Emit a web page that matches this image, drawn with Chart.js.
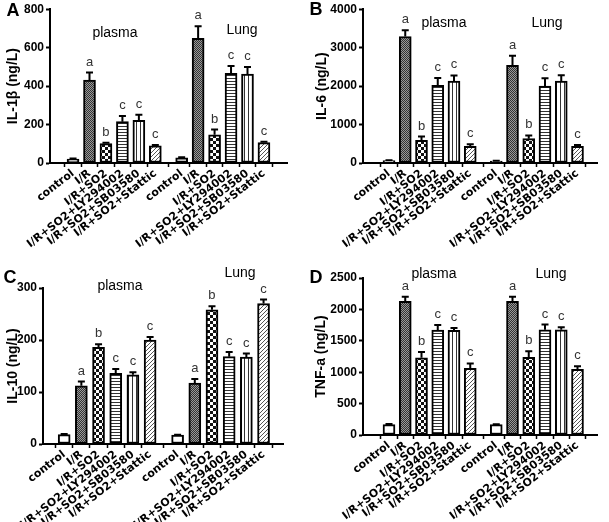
<!DOCTYPE html>
<html>
<head>
<meta charset="utf-8">
<script src="https://cdn.jsdelivr.net/npm/chart.js@4"></script>
<style>
  body { margin: 0; background: #fff; }
  #wrap { position: relative; width: 609px; height: 522px; }
  .panel { position: absolute; }
</style>
</head>
<body>
<div id="wrap">
  <div class="panel" style="left:0;top:0;width:304px;height:261px"><canvas id="chartA"></canvas></div>
  <div class="panel" style="left:304px;top:0;width:305px;height:261px"><canvas id="chartB"></canvas></div>
  <div class="panel" style="left:0;top:261px;width:304px;height:261px"><canvas id="chartC"></canvas></div>
  <div class="panel" style="left:304px;top:261px;width:305px;height:261px"><canvas id="chartD"></canvas></div>
</div>
<script>
// groups and positions on the x axis
const groupLabels = ["control", "I/R", "I/R+SO2", "I/R+SO2+LY294002", "I/R+SO2+SB03580", "I/R+SO2+Stattic"];
const plasmaX = [0, 1, 2, 3, 4, 5];
const lungX = [6.6, 7.6, 8.6, 9.6, 10.6, 11.6];
const sigLetters = ["", "a", "b", "c", "c", "c"];

// A: IL-1b
const il1bPlasma = [20, 431, 101, 215, 222, 89];
const il1bPlasmaErr = [3, 40, 4, 30, 29, 4];
const il1bLung = [27, 648, 147, 467, 463, 106];
const il1bLungErr = [3, 63, 27, 37, 36, 5];

// B: IL-6
const il6Plasma = [60, 3290, 590, 2018, 2128, 436];
const il6PlasmaErr = [10, 160, 100, 195, 150, 50];
const il6Lung = [50, 2538, 633, 2000, 2128, 436];
const il6LungErr = [10, 250, 85, 205, 155, 35];

// C: IL-10
const il10Plasma = [18, 112, 186, 136, 133, 200];
const il10PlasmaErr = [1, 8, 6, 8, 5, 6];
const il10Lung = [17, 117, 258, 168, 167, 270];
const il10LungErr = [1, 8, 7, 9, 7, 8];

// D: TNF-a
const tnfPlasma = [165, 2130, 1230, 1670, 1665, 1060];
const tnfPlasmaErr = [10, 70, 90, 80, 40, 80];
const tnfLung = [165, 2130, 1235, 1675, 1675, 1045];
const tnfLungErr = [8, 70, 100, 85, 40, 50];

const FONT = "'Liberation Sans', Arial, sans-serif";
const WIDE_FONT = "'DejaVu Sans', Verdana, sans-serif";

const makePattern = (size, draw) => {
  const c = document.createElement("canvas");
  c.width = size; c.height = size;
  const g = c.getContext("2d");
  g.fillStyle = "#fff";
  g.fillRect(0, 0, size, size);
  draw(g);
  return g.createPattern(c, "repeat");
}

const patterns = [
  "#ffffff",
  makePattern(2, g => { g.fillStyle = "#333"; g.fillRect(0, 0, 1, 1); g.fillRect(1, 1, 1, 1); g.fillStyle = "#999"; g.fillRect(1, 0, 1, 1); g.fillRect(0, 1, 1, 1); }),
  makePattern(6, g => { g.fillStyle = "#111"; g.fillRect(0, 0, 3, 3); g.fillRect(3, 3, 3, 3); }),
  makePattern(3, g => { g.fillStyle = "#333"; g.fillRect(0, 0, 3, 1); }),
  makePattern(4, g => { g.fillStyle = "#333"; g.fillRect(0, 0, 1, 4); }),
  makePattern(4, g => { g.fillStyle = "#555"; g.fillRect(3, 0, 1, 1); g.fillRect(2, 1, 1, 1); g.fillRect(1, 2, 1, 1); g.fillRect(0, 3, 1, 1); })
];

// error bars, significance letters, group names, panel letter
const decorPlugin = {
  id: "decor",
  afterDatasetsDraw(chart, args, opts) {
    const ctx = chart.ctx;
    const yScale = chart.scales.y;
    const meta = chart.getDatasetMeta(0);
    const values = opts.values, errs = opts.errs;
    ctx.save();
    meta.data.forEach((bar, i) => {
      const top = yScale.getPixelForValue(values[i] + errs[i]);
      ctx.strokeStyle = "#000";
      ctx.lineWidth = 2;
      ctx.beginPath();
      ctx.moveTo(bar.x, bar.y);
      ctx.lineTo(bar.x, top);
      ctx.moveTo(bar.x - 3.5, top);
      ctx.lineTo(bar.x + 3.5, top);
      ctx.stroke();
      const letter = sigLetters[i % 6];
      if (letter) {
        ctx.fillStyle = "#333";
        ctx.font = "13px " + FONT;
        ctx.textAlign = "center";
        ctx.textBaseline = "bottom";
        ctx.fillText(letter, bar.x, top - 4);
      }
    });
    ctx.fillStyle = "#000";
    ctx.font = "14px " + FONT;
    ctx.textAlign = "center";
    ctx.textBaseline = "middle";
    opts.groups.forEach(gp => ctx.fillText(gp.text, gp.x, gp.y));
    ctx.font = "bold 18px " + FONT;
    ctx.fillText(opts.panel.text, opts.panel.x, opts.panel.y);
    ctx.restore();
  }
};

const renderPanel = (canvasId, cfg) => {
  const values = cfg.plasma.concat(cfg.lung);
  const errs = cfg.plasmaErr.concat(cfg.lungErr);
  const xs = plasmaX.concat(lungX);
  new Chart(document.getElementById(canvasId), {
    type: "bar",
    data: {
      datasets: [{
        data: values.map((v, i) => ({ x: xs[i], y: v })),
        backgroundColor: patterns.concat(patterns),
        borderColor: "#000",
        borderWidth: 2,
        borderSkipped: false,
        barThickness: 12
      }]
    },
    plugins: [decorPlugin],
    options: {
      responsive: true,
      maintainAspectRatio: false,
      animation: false,
      layout: { padding: { top: cfg.top, right: cfg.right, left: 0, bottom: 0 } },
      plugins: {
        legend: { display: false },
        tooltip: { enabled: false },
        decor: { values, errs, groups: cfg.groups, panel: cfg.panel }
      },
      scales: {
        x: {
          type: "linear",
          min: cfg.xMin,
          max: cfg.xMax,
          afterBuildTicks: s => { s.ticks = xs.map(v => ({ value: v })); },
          afterFit: s => { s.height = cfg.xHeight; },
          grid: { drawOnChartArea: false, drawTicks: true, tickLength: 4, tickColor: "#000", tickWidth: 1.5 },
          border: { display: true, color: "#000", width: 2 },
          ticks: {
            autoSkip: false,
            minRotation: 38,
            maxRotation: 38,
            padding: 0,
            color: "#000",
            font: { family: WIDE_FONT, weight: "bold", size: 11 },
            callback: (v, i) => groupLabels[i % 6]
          }
        },
        y: {
          min: 0,
          max: cfg.yMax,
          afterFit: s => { s.width = cfg.yWidth; },
          grid: { drawOnChartArea: false, drawTicks: true, tickLength: 4, tickColor: "#000", tickWidth: 2 },
          border: { display: true, color: "#000", width: 2 },
          ticks: {
            stepSize: cfg.yStep,
            padding: 2,
            color: "#000",
            font: { family: FONT, weight: "bold", size: 12 },
            callback: v => String(v)
          },
          title: {
            display: true,
            text: cfg.yTitle,
            color: "#000",
            padding: { top: cfg.titlePad, bottom: 2 },
            font: { family: FONT, weight: "bold", size: 14 }
          }
        }
      }
    }
  });
}

renderPanel("chartA", {
  plasma: il1bPlasma, plasmaErr: il1bPlasmaErr, lung: il1bLung, lungErr: il1bLungErr,
  yTitle: "IL-1β (ng/L)", yMax: 800, yStep: 200, titlePad: 5,
  top: 7, right: 17, yWidth: 50, xHeight: 98, xMin: -0.8, xMax: 12.4,
  groups: [{ text: "plasma", x: 115, y: 33 }, { text: "Lung", x: 242, y: 30 }],
  panel: { text: "A", x: 13, y: 11 }
});

renderPanel("chartB", {
  plasma: il6Plasma, plasmaErr: il6PlasmaErr, lung: il6Lung, lungErr: il6LungErr,
  yTitle: "IL-6 (ng/L)", yMax: 4000, yStep: 1000, titlePad: 10,
  top: 7, right: 12, yWidth: 59, xHeight: 98, xMin: -1.0, xMax: 12.2,
  groups: [{ text: "plasma", x: 140, y: 23 }, { text: "Lung", x: 243, y: 23 }],
  panel: { text: "B", x: 12, y: 10 }
});

renderPanel("chartC", {
  plasma: il10Plasma, plasmaErr: il10PlasmaErr, lung: il10Lung, lungErr: il10LungErr,
  yTitle: "IL-10 (ng/L)", yMax: 300, yStep: 100, titlePad: 5,
  top: 27, right: 21, yWidth: 43, xHeight: 78, xMin: -0.65, xMax: 12.15,
  groups: [{ text: "plasma", x: 120, y: 25 }, { text: "Lung", x: 240, y: 12 }],
  panel: { text: "C", x: 10, y: 17 }
});

renderPanel("chartD", {
  plasma: tnfPlasma, plasmaErr: tnfPlasmaErr, lung: tnfLung, lungErr: tnfLungErr,
  yTitle: "TNF-a (ng/L)", yMax: 2500, yStep: 500, titlePad: 9,
  top: 17, right: 12, yWidth: 59, xHeight: 87, xMin: -1.0, xMax: 12.2,
  groups: [{ text: "plasma", x: 130, y: 13 }, { text: "Lung", x: 247, y: 13 }],
  panel: { text: "D", x: 12, y: 17 }
});
</script>
</body>
</html>
